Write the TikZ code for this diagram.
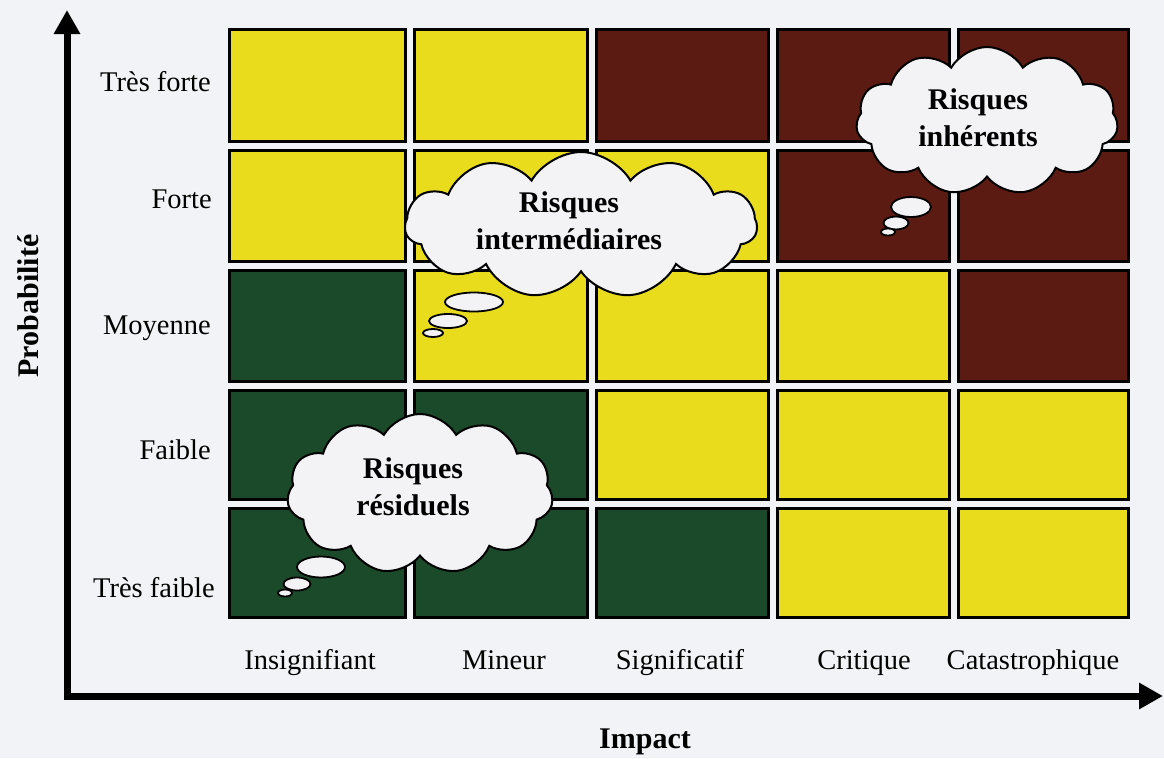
\documentclass[tikz,border=0pt]{standalone}
\usepackage{fontspec}
\setmainfont{Liberation Serif}
\usetikzlibrary{shapes.symbols,shapes.geometric,arrows.meta}
\definecolor{cy}{HTML}{E9DC1C}
\definecolor{cg}{HTML}{1B4A2A}
\definecolor{cr}{HTML}{5C1B12}
\definecolor{bg}{HTML}{F2F3F6}
\definecolor{cloudfill}{HTML}{F3F3F5}
\begin{document}
\begin{tikzpicture}[x=1pt,y=-1pt,
  cellbox/.style={draw=black, line width=3pt},
  lbl/.style={font=\fontsize{28.5}{30}\selectfont, inner sep=0pt},
  blbl/.style={font=\fontsize{30}{37}\selectfont\bfseries, inner sep=0pt, align=center},
  thought/.style={cloud, cloud puffs=11, cloud puff arc=120, aspect=2.2, draw=black, line width=2pt, fill=cloudfill, inner sep=0pt},
  bubble/.style={ellipse, draw=black, line width=1.8pt, fill=cloudfill, inner sep=0pt},
  axis/.style={line width=7pt, line join=miter}]
\fill[bg] (0,0) rectangle (1164,758);
\useasboundingbox (0,0) rectangle (1164,758);

% grid of cells
\foreach \ya/\yb/\cols [count=\r] in {28/143/{cy,cy,cr,cr,cr},149/263/{cy,cy,cy,cr,cr},269/383/{cg,cy,cy,cy,cr},389/501/{cg,cg,cy,cy,cy},507/619/{cg,cg,cg,cy,cy}}{
  \foreach \cc [count=\c] in \cols {
    \pgfmathsetmacro\xa{{228,413,595,776,957}[\c-1]}
    \pgfmathsetmacro\xb{{407,589,770,951,1130}[\c-1]}
    \draw[cellbox, fill=\cc] (\xa+1.5,\ya+1.5) rectangle (\xb-1.5,\yb-1.5);
  }
}

% axes
\coordinate (ytip) at (67,10);
\coordinate (origin) at (67,696);
\coordinate (xtip) at (1163,696);
\draw[axis, {Triangle[length=24pt,width=25pt]}-{Triangle[length=24pt,width=25pt]}] (ytip) -- (origin) -- (xtip);

% row labels
\node[lbl, anchor=base east] (l1) at (211,91) {Très forte};
\node[lbl, anchor=base east] (l2) at (212,208) {Forte};
\node[lbl, anchor=base east] (l3) at (211,334) {Moyenne};
\node[lbl, anchor=base east] (l4) at (211,459) {Faible};
\node[lbl, anchor=base east] (l5) at (215,597) {Très faible};

% column labels
\node[lbl, anchor=base] (k1) at (310,669) {Insignifiant};
\node[lbl, anchor=base] (k2) at (504,669) {Mineur};
\node[lbl, anchor=base] (k3) at (680,669) {Significatif};
\node[lbl, anchor=base] (k4) at (864,669) {Critique};
\node[lbl, anchor=base] (k5) at (1033,669) {Catastrophique};

% axis titles
\node[blbl, rotate=90] (ptitle) at (28,306) {Probabilité};
\node[blbl] (ititle) at (645,742) {Impact};

% cloud: intermediaires
\node[thought, minimum width=352pt, minimum height=146pt] (cint) at (581,225) {};
\node[bubble, minimum width=58pt, minimum height=19pt] (bi1) at (474,302) {};
\node[bubble, minimum width=38pt, minimum height=14pt] (bi2) at (448,321) {};
\node[bubble, minimum width=20pt, minimum height=8pt] (bi3) at (433,333) {};
\node[blbl] (tint) at (569,221) {Risques\\intermédiaires};

% cloud: inherents
\node[thought, minimum width=262pt, minimum height=148pt] (cinh) at (987,121) {};
\node[bubble, minimum width=40pt, minimum height=20pt] (bh1) at (911,207) {};
\node[bubble, minimum width=25pt, minimum height=13pt] (bh2) at (896,223) {};
\node[bubble, minimum width=14pt, minimum height=7pt] (bh3) at (888,232) {};
\node[blbl] (tinh) at (978,118) {Risques\\inhérents};

% cloud: residuels
\node[thought, minimum width=266pt, minimum height=160pt] (cres) at (420,494) {};
\node[bubble, minimum width=48pt, minimum height=21pt] (br1) at (321,567) {};
\node[bubble, minimum width=27pt, minimum height=13pt] (br2) at (297,584) {};
\node[bubble, minimum width=14pt, minimum height=7pt] (br3) at (285,593) {};
\node[blbl] (tres) at (413,487) {Risques\\résiduels};
\end{tikzpicture}
\end{document}
